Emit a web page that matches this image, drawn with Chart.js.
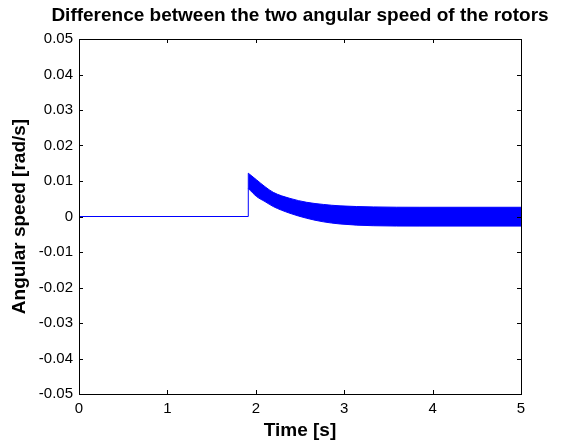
<!DOCTYPE html>
<html>
<head>
<meta charset="utf-8">
<script src="https://cdn.jsdelivr.net/npm/chart.js@4/dist/chart.umd.min.js"></script>
<style>
  html, body { margin: 0; padding: 0; background: #fff; }
  #wrap { width: 561px; height: 440px; }
</style>
</head>
<body>
<div id="wrap"><canvas id="myChart" width="561" height="440"></canvas></div>
<script>
// values
var stepTime = [0, 1.915, 1.915];
var stepValue = [0, 0, 0.0122];

// envelope of the fast oscillation after the step
var bandTime  = [1.915, 2.01, 2.104, 2.198, 2.387, 2.576, 2.764, 2.953, 3.329, 3.857, 5];
var bandUpper = [0.0122, 0.0103, 0.0084, 0.0068, 0.0051, 0.0040, 0.0034, 0.0030, 0.0027, 0.0026, 0.0026];
var bandLower = [0.0079, 0.0056, 0.0042, 0.0028, 0.0009, -0.0005, -0.0015, -0.0021, -0.0026, -0.0027, -0.0027];

var xTicks = [0, 1, 2, 3, 4, 5];
var yMin = -0.05, yMax = 0.05, yStep = 0.01;

var titleText = 'Difference between the two angular speed of the rotors';

function pts(xs, ys) {
    return xs.map(function (x, i) { return { x: x, y: ys[i] }; });
}

var blue = '#0000ff';
var fontFamily = "'Liberation Sans', Arial, Helvetica, sans-serif";

// matlab style box with inward ticks, title centred over the axes
var boxPlugin = {
    id: 'box',
    afterDatasetsDraw: function (chart) {
        var ctx = chart.ctx, a = chart.chartArea;
        var xs = chart.scales.x, ys = chart.scales.y;
        var tl = 4;
        ctx.save();
        ctx.strokeStyle = '#000';
        ctx.lineWidth = 1;
        ctx.beginPath();
        xs.ticks.forEach(function (t) {
            var px = Math.round(xs.getPixelForValue(t.value)) + 0.5;
            ctx.moveTo(px, a.bottom); ctx.lineTo(px, a.bottom - tl);
            ctx.moveTo(px, a.top); ctx.lineTo(px, a.top + tl);
        });
        ys.ticks.forEach(function (t) {
            var py = Math.round(ys.getPixelForValue(t.value)) + 0.5;
            ctx.moveTo(a.left, py); ctx.lineTo(a.left + tl, py);
            ctx.moveTo(a.right, py); ctx.lineTo(a.right - tl, py);
        });
        ctx.stroke();
        ctx.strokeRect(Math.round(a.left) + 0.5, Math.round(a.top) + 0.5,
            Math.round(a.right - a.left), Math.round(a.bottom - a.top));

        ctx.fillStyle = '#000';
        ctx.font = 'bold 19px ' + fontFamily;
        ctx.textAlign = 'center';
        ctx.textBaseline = 'middle';
        ctx.fillText(titleText, (a.left + a.right) / 2, 16);
        ctx.restore();
    }
};

var ctx = document.getElementById('myChart').getContext('2d');
var myChart = new Chart(ctx, {
    type: 'line',
    data: {
        datasets: [{
            data: pts(stepTime, stepValue),
            borderColor: blue,
            borderWidth: 1,
            pointRadius: 0,
            fill: false
        }, {
            data: pts(bandTime, bandLower),
            borderColor: blue,
            borderWidth: 1,
            pointRadius: 0,
            cubicInterpolationMode: 'monotone',
            fill: false
        }, {
            data: pts(bandTime, bandUpper),
            borderColor: blue,
            backgroundColor: blue,
            borderWidth: 1,
            pointRadius: 0,
            cubicInterpolationMode: 'monotone',
            fill: '-1'
        }]
    },
    options: {
        responsive: false,
        animation: false,
        devicePixelRatio: 1,
        layout: { padding: { left: 0, right: 40, top: 39, bottom: 0 } },
        plugins: {
            legend: { display: false },
            tooltip: { enabled: false },
            title: { display: false }
        },
        scales: {
            x: {
                type: 'linear',
                min: 0,
                max: 5,
                afterBuildTicks: function (s) {
                    s.ticks = xTicks.map(function (v) { return { value: v }; });
                },
                grid: { display: false, drawTicks: false },
                border: { display: false },
                ticks: {
                    color: '#000',
                    padding: 6,
                    maxRotation: 0,
                    font: { family: fontFamily, size: 15 }
                },
                title: {
                    display: true,
                    text: 'Time [s]',
                    color: '#000',
                    font: { family: fontFamily, size: 19, weight: 'bold', lineHeight: 1 },
                    padding: { top: 0, bottom: 0 }
                },
                afterFit: function (s) { s.height = 46; }
            },
            y: {
                min: yMin,
                max: yMax,
                ticks: {
                    stepSize: yStep,
                    color: '#000',
                    padding: 6,
                    font: { family: fontFamily, size: 15 },
                    callback: function (v) {
                        var r = Math.round(v * 100) / 100;
                        return r === 0 ? '0' : r.toFixed(2);
                    }
                },
                grid: { display: false, drawTicks: false },
                border: { display: false },
                title: {
                    display: true,
                    text: 'Angular speed [rad/s]',
                    color: '#000',
                    font: { family: fontFamily, size: 19, weight: 'bold', lineHeight: 1 },
                    padding: { top: 10, bottom: 0 }
                },
                afterFit: function (s) { s.width = 79; }
            }
        }
    },
    plugins: [boxPlugin]
});
</script>
</body>
</html>
